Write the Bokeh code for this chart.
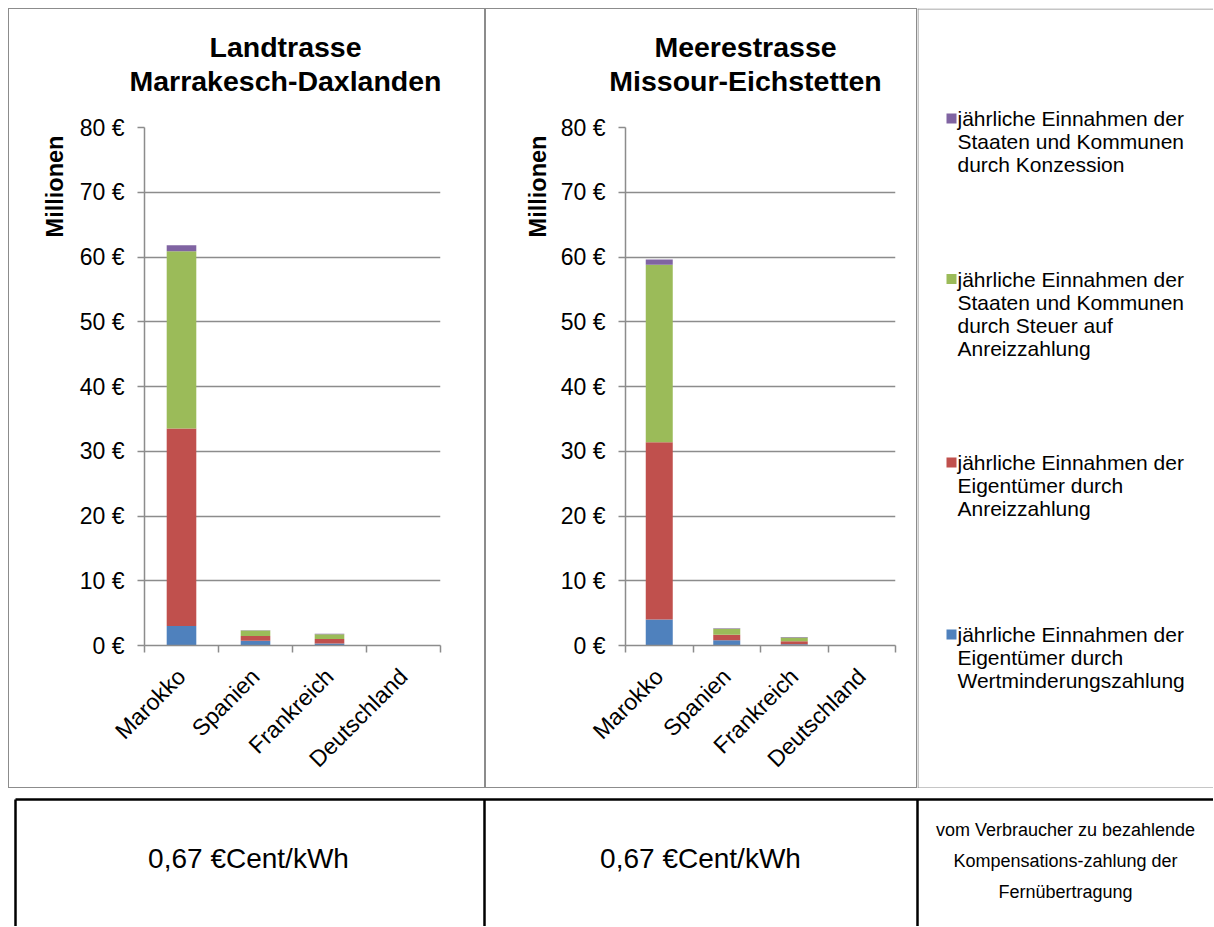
import math
from bokeh.plotting import figure
from bokeh.models import Range1d, FixedTicker, ColumnDataSource, PrintfTickFormatter, Spacer
from bokeh.layouts import row, column
from bokeh.embed import file_html
from bokeh.resources import INLINE
from bokeh.core.properties import value

FONT = "Liberation Sans"
GRID = "#8c8c8c"

# ---------------- data ----------------
countries = ["Marokko", "Spanien", "Frankreich", "Deutschland"]
series_keys = ["wert", "anreiz", "steuer", "konz"]
series_colors = ["#4F81BD", "#C0504D", "#9BBB59", "#8064A2"]

# Landtrasse Marrakesch-Daxlanden (Millionen €)
land_wert = [3.0, 0.75, 0.3, 0.02]
land_anreiz = [30.5, 0.7, 0.7, 0.02]
land_steuer = [27.4, 0.85, 0.75, 0.02]
land_konz = [0.9, 0.05, 0.05, 0.0]

# Meerestrasse Missour-Eichstetten (Millionen €)
meer_wert = [4.0, 0.8, 0.2, 0.02]
meer_anreiz = [27.4, 0.85, 0.45, 0.02]
meer_steuer = [27.4, 0.95, 0.6, 0.02]
meer_konz = [0.8, 0.05, 0.05, 0.0]

y_ticks = [0, 10, 20, 30, 40, 50, 60, 70, 80]
y_label = "Millionen"
title_land = ["Landtrasse", "Marrakesch-Daxlanden"]
title_meer = ["Meerestrasse", "Missour-Eichstetten"]

legend_entries = [
    ["jährliche Einnahmen der", "Staaten und Kommunen", "durch Konzession"],
    ["jährliche Einnahmen der", "Staaten und Kommunen", "durch Steuer auf", "Anreizzahlung"],
    ["jährliche Einnahmen der", "Eigentümer durch", "Anreizzahlung"],
    ["jährliche Einnahmen der", "Eigentümer durch", "Wertminderungszahlung"],
]
legend_colors = ["#8064A2", "#9BBB59", "#C0504D", "#4F81BD"]

table_values = ["0,67 €Cent/kWh", "0,67 €Cent/kWh"]
table_note = ["vom Verbraucher zu bezahlende", "Kompensations-zahlung der", "Fernübertragung"]

PANEL_H = 780
HEAD_H = 100
YLAB_W = 68
PANEL_STYLE = {"outline": "1px solid #8c8c8c", "outline-offset": "-1px"}


def pixel_fig(w, h):
    f = figure(width=w, height=h, x_range=Range1d(0, w), y_range=Range1d(h, 0),
               output_backend="svg", toolbar_location=None, min_border=0)
    f.axis.visible = False
    f.grid.visible = False
    f.outline_line_color = None
    f.background_fill_color = None
    f.border_fill_color = None
    return f


def make_chart(width, b_left, b_right, values):
    p = figure(width=width, height=PANEL_H - HEAD_H,
               x_range=Range1d(0, len(countries)),
               y_range=Range1d(y_ticks[0], y_ticks[-1]),
               output_backend="svg", toolbar_location=None,
               min_border_left=b_left, min_border_right=b_right,
               min_border_top=19, min_border_bottom=143)
    p.outline_line_color = None
    p.background_fill_color = None
    p.border_fill_color = None
    p.xgrid.visible = False
    p.ygrid.ticker = FixedTicker(ticks=y_ticks)
    p.ygrid.grid_line_color = GRID
    p.ygrid.grid_line_width = 1.5

    centers = [i + 0.5 for i in range(len(countries))]
    data = dict(x=centers)
    data.update(zip(series_keys, values))
    p.vbar_stack(series_keys, x="x", width=0.4, color=series_colors,
                 source=ColumnDataSource(data), line_color=None)

    xa = p.xaxis[0]
    xa.ticker = FixedTicker(ticks=centers, minor_ticks=list(range(len(countries) + 1)))
    xa.major_label_overrides = {c: name for c, name in zip(centers, countries)}
    xa.major_tick_out = 0
    xa.major_tick_in = 0
    xa.minor_tick_out = 7
    xa.minor_tick_in = 0
    xa.minor_tick_line_color = GRID
    xa.minor_tick_line_width = 1.5
    xa.axis_line_color = GRID
    xa.axis_line_width = 1.5
    xa.major_label_orientation = math.pi / 4
    xa.major_label_standoff = 20
    xa.major_label_text_font = FONT
    xa.major_label_text_font_size = "23px"
    xa.major_label_text_color = "black"

    ya = p.yaxis[0]
    ya.ticker = FixedTicker(ticks=y_ticks)
    ya.formatter = PrintfTickFormatter(format="%d €")
    ya.major_tick_out = 7
    ya.major_tick_in = 0
    ya.minor_tick_out = 0
    ya.minor_tick_in = 0
    ya.major_tick_line_color = GRID
    ya.major_tick_line_width = 1.5
    ya.axis_line_color = GRID
    ya.axis_line_width = 1.5
    ya.major_label_standoff = 13
    ya.major_label_text_font = FONT
    ya.major_label_text_font_size = "23px"
    ya.major_label_text_color = "black"
    return p


def make_panel(width, title_lines, title_x, ylabel_x, b_left, b_right, values):
    head = pixel_fig(width, HEAD_H)
    head.text(x=[title_x] * len(title_lines), y=[38 + 34 * i for i in range(len(title_lines))],
              text=title_lines, text_font=value(FONT), text_font_size="28.5px",
              text_font_style="bold", text_align="center", text_baseline="middle",
              text_color="black")
    ylab = pixel_fig(YLAB_W, PANEL_H - HEAD_H)
    ylab.text(x=[ylabel_x], y=[78], text=[y_label], angle=math.pi / 2,
              text_font=value(FONT), text_font_size="23.5px", text_font_style="bold",
              text_align="center", text_baseline="middle", text_color="black")
    chart = make_chart(width - YLAB_W, b_left, b_right, values)
    return column(head, row(column(ylab), column(chart)), styles=PANEL_STYLE)


panel1 = make_panel(477, title_land, 277, 46, 143 - 8 - YLAB_W, 45,
                    [land_wert, land_anreiz, land_steuer, land_konz])
panel2 = make_panel(432, title_meer, 260, 52, 625 - 485 - YLAB_W, 22,
                    [meer_wert, meer_anreiz, meer_steuer, meer_konz])

# legend panel
LW = 296
f3 = pixel_fig(LW, PANEL_H)
f3.segment(x0=[0, 0, 0.5], y0=[0.5, PANEL_H - 0.5, 0], x1=[LW, LW, 0.5], y1=[0.5, PANEL_H - 0.5, PANEL_H],
           line_color=GRID, line_width=1)
slot = 172
first_center = 133
line_h = 23
mx, my, tx, ty, tt = [], [], [], [], []
for k, lines in enumerate(legend_entries):
    center = first_center + slot * k
    top = center - line_h * (len(lines) - 1) / 2
    mx.append(34)
    my.append(top)
    for j, t in enumerate(lines):
        tx.append(40)
        ty.append(top + line_h * j)
        tt.append(t)
f3.rect(x=mx, y=my, width=10, height=10, color=legend_colors, line_color=None)
f3.text(x=tx, y=ty, text=tt, text_font=value(FONT), text_font_size="21px",
        text_baseline="middle", text_align="left", text_color="black")

# bottom table
TW, TH = 1205, 138
ft = pixel_fig(TW, TH)
ft.segment(x0=[7, 7, 476, 909], y0=[11, 11, 11, 11], x1=[TW, 7, 476, 909], y1=[11, TH, TH, TH],
           line_color="black", line_width=2.5)
ft.text(x=[240, 692], y=[70, 70], text=table_values, text_font=value(FONT),
        text_font_size="28px", text_align="center", text_baseline="middle", text_color="black")
ft.text(x=[1057] * 3, y=[41, 72, 103], text=table_note, text_font=value(FONT),
        text_font_size="18px", text_align="center", text_baseline="middle", text_color="black")

layout = column(
    Spacer(height=8),
    row(Spacer(width=8), panel1, panel2, column(f3)),
    row(Spacer(width=8), ft),
)
open("out.html", "w").write(file_html(layout, INLINE))
